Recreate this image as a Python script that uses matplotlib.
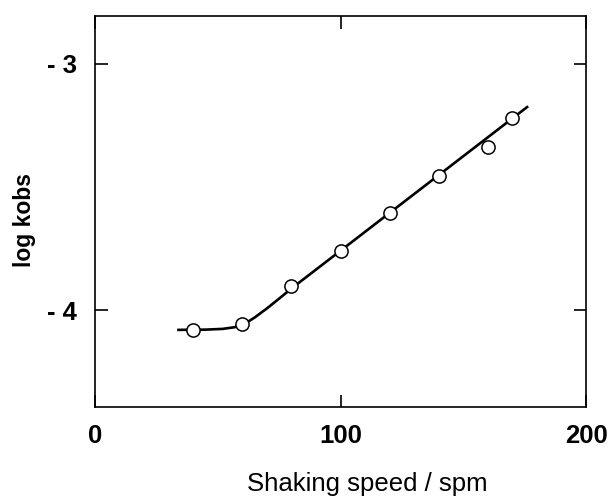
import matplotlib
matplotlib.use("Agg")
import matplotlib.pyplot as plt
from matplotlib import font_manager

# measured points (shaking speed / spm, log k_obs)
speed = [40, 60, 80, 100, 120, 140, 160, 170]
log_k = [-4.081, -4.058, -3.901, -3.760, -3.607, -3.455, -3.336, -3.220]

# drawn trend curve
curve_x = [34, 45, 52, 57, 61, 65, 70, 75, 80, 176]
curve_y = [-4.080, -4.079, -4.076, -4.069, -4.055, -4.030, -3.993, -3.953, -3.912, -3.175]

x_ticks = [0, 100, 200]
y_ticks = [-4, -3]
y_tick_labels = ["- 4", "- 3"]


def _has_font(name):
    try:
        return bool(font_manager.findfont(name, fallback_to_default=False))
    except Exception:
        return False


# condensed face for axis titles if it exists, else plain Liberation Sans
if _has_font("Liberation Sans Narrow"):
    lab_family, xlab_size, ylab_size = "Liberation Sans Narrow", 21, 20
else:
    lab_family, xlab_size, ylab_size = "Liberation Sans", 18.5, 16.5

fig = plt.figure(figsize=(6.13, 4.99), dpi=100)
ax = fig.add_axes([0.155, 0.184, 0.801, 0.784])

ax.plot(curve_x, curve_y, color="black", lw=1.9, zorder=2)
ax.plot(speed, log_k, "o", ms=9.5, mfc="white", mec="black", mew=1.1, zorder=3)

ax.set_xlim(0, 200)
ax.set_ylim(-4.394, -2.805)
ax.set_xticks(x_ticks)
ax.set_yticks(y_ticks)
ax.set_yticklabels(y_tick_labels)
for lab in ax.get_xticklabels() + ax.get_yticklabels():
    lab.set_fontfamily("Liberation Sans")
    lab.set_fontweight("bold")
    lab.set_fontsize(18.5)

ax.tick_params(direction="in", length=9, width=1.2, top=True, right=True)
ax.tick_params(axis="x", pad=12)
ax.tick_params(axis="y", pad=13)
for sp in ax.spines.values():
    sp.set_linewidth(1.2)

ax.set_xlabel("Shaking speed / spm", family=lab_family, fontsize=xlab_size, va="center")
ax.xaxis.set_label_coords(0.554, -0.197)
ax.set_ylabel("log kobs", family=lab_family, fontsize=ylab_size, fontweight="bold",
              va="center")
ax.yaxis.set_label_coords(-0.143, 0.478)

fig.savefig("out.png", dpi=100)
